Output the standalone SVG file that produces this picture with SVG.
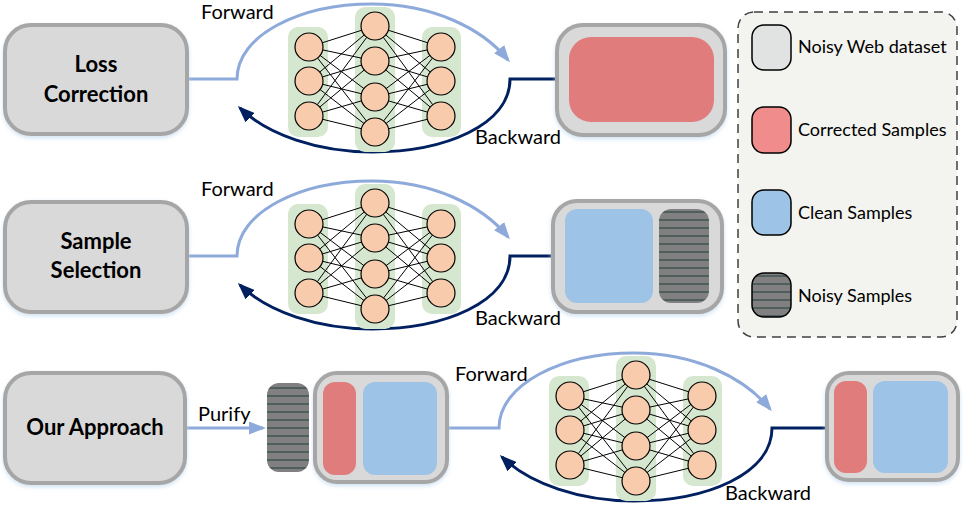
<svg xmlns="http://www.w3.org/2000/svg" xmlns:xlink="http://www.w3.org/1999/xlink" width="964" height="510" viewBox="0 0 964 510">
<style>
.box{fill:#d9d9d9;stroke:#a6a6a6;stroke-width:4;}
.title{font-family:Lato,"Liberation Sans",sans-serif;font-weight:bold;font-size:22px;fill:#000;text-anchor:middle;}
.lbl{font-family:Lato,"Liberation Sans",sans-serif;font-size:20px;fill:#000;}
.leg{font-family:Lato,"Liberation Sans",sans-serif;font-size:18px;fill:#000;}
.fwd{fill:none;stroke:#8eaadb;stroke-width:3;}
.bwd{fill:none;stroke:#002060;stroke-width:3;}
.layer{fill:#d5e8cf;}
.neuron{fill:#f8cbad;stroke:#000;stroke-width:1.2;}
.edge{stroke:#000;stroke-width:1;}
.red{fill:#e07c7c;}
.blue{fill:#9dc3e6;}
.noisy{fill:url(#hatch);}
</style>
<defs>
<filter id="sh" x="-10%" y="-10%" width="120%" height="130%">
<feDropShadow dx="0" dy="2" stdDeviation="2" flood-color="#bdd7ee" flood-opacity="0.7"/>
</filter>
<pattern id="hatch" width="10" height="8" patternUnits="userSpaceOnUse">
<rect width="10" height="8" fill="#808080"/>
<line x1="0" y1="4" x2="10" y2="4" stroke="#1f3d3a" stroke-width="1"/>
</pattern>
<marker id="af" viewBox="0 0 17 13" markerWidth="17" markerHeight="13" refX="14" refY="6.5" orient="auto" markerUnits="userSpaceOnUse">
<path d="M0,0 L17,6.5 L0,13 z" fill="#8eaadb"/>
</marker>
<marker id="ab" viewBox="0 0 17 13" markerWidth="17" markerHeight="13" refX="14" refY="6.5" orient="auto" markerUnits="userSpaceOnUse">
<path d="M0,0 L17,6.5 L0,13 z" fill="#002060"/>
</marker>
<g id="net">
<rect class="layer" x="288" y="27" width="40" height="110" rx="10"/>
<rect class="layer" x="355" y="7" width="40" height="145" rx="10"/>
<rect class="layer" x="422" y="27" width="39" height="110" rx="10"/>
<g class="edge">
<line x1="309" y1="47" x2="375" y2="26"/><line x1="309" y1="47" x2="375" y2="61"/><line x1="309" y1="47" x2="375" y2="97"/><line x1="309" y1="47" x2="375" y2="132"/>
<line x1="309" y1="81" x2="375" y2="26"/><line x1="309" y1="81" x2="375" y2="61"/><line x1="309" y1="81" x2="375" y2="97"/><line x1="309" y1="81" x2="375" y2="132"/>
<line x1="309" y1="116" x2="375" y2="26"/><line x1="309" y1="116" x2="375" y2="61"/><line x1="309" y1="116" x2="375" y2="97"/><line x1="309" y1="116" x2="375" y2="132"/>
<line x1="441" y1="47" x2="375" y2="26"/><line x1="441" y1="47" x2="375" y2="61"/><line x1="441" y1="47" x2="375" y2="97"/><line x1="441" y1="47" x2="375" y2="132"/>
<line x1="441" y1="81" x2="375" y2="26"/><line x1="441" y1="81" x2="375" y2="61"/><line x1="441" y1="81" x2="375" y2="97"/><line x1="441" y1="81" x2="375" y2="132"/>
<line x1="441" y1="116" x2="375" y2="26"/><line x1="441" y1="116" x2="375" y2="61"/><line x1="441" y1="116" x2="375" y2="97"/><line x1="441" y1="116" x2="375" y2="132"/>
</g>
<circle class="neuron" cx="309" cy="47" r="14"/><circle class="neuron" cx="309" cy="81" r="14"/><circle class="neuron" cx="309" cy="116" r="14"/>
<circle class="neuron" cx="375" cy="26" r="14"/><circle class="neuron" cx="375" cy="61" r="14"/><circle class="neuron" cx="375" cy="97" r="14"/><circle class="neuron" cx="375" cy="132" r="14"/>
<circle class="neuron" cx="441" cy="47" r="14"/><circle class="neuron" cx="441" cy="81" r="14"/><circle class="neuron" cx="441" cy="116" r="14"/>
</g>
</defs>
<rect width="964" height="510" fill="#ffffff"/>

<g id="connectors">
<path class="fwd" d="M187,79 H237 C237,35 300,4 372,4 C432,4 482,28 508,60" marker-end="url(#af)"/>
<path class="bwd" d="M557,79 H510 C510,125 445,152 372,152 C318,152 268,135 240,108" marker-end="url(#ab)"/>
<path class="fwd" d="M187,256 H237 C237,212 300,181 372,181 C432,181 482,205 508,237" marker-end="url(#af)"/>
<path class="bwd" d="M566,256 H510 C510,302 445,329 372,329 C318,329 268,312 240,285" marker-end="url(#ab)"/>
<path class="fwd" d="M185,428 H263" marker-end="url(#af)"/>
<path class="fwd" d="M447,428 H499 C499,384 562,353 634,353 C694,353 744,377 770,409" marker-end="url(#af)"/>
<path class="bwd" d="M827,428 H772 C772,474 707,501 634,501 C580,501 530,484 502,457" marker-end="url(#ab)"/>
</g>

<g id="loss-correction">
<rect class="box" x="5" y="25" width="182" height="109" rx="26" filter="url(#sh)"/>
<text class="title" x="96" y="72">Loss</text>
<text class="title" x="96" y="102">Correction</text>
</g>
<g id="sample-selection">
<rect class="box" x="5" y="202" width="182" height="110" rx="26" filter="url(#sh)"/>
<text class="title" x="96" y="249">Sample</text>
<text class="title" x="96" y="278">Selection</text>
</g>
<g id="our-approach">
<rect class="box" x="5" y="373" width="180" height="110" rx="26" filter="url(#sh)"/>
<text class="title" x="95" y="435">Our Approach</text>
</g>

<g id="net1"><use xlink:href="#net"/></g>
<g id="net2"><use xlink:href="#net" transform="translate(0,177)"/></g>
<g id="net3"><use xlink:href="#net" transform="translate(261,349)"/></g>

<g id="labels">
<text class="lbl" x="201" y="19">Forward</text>
<text class="lbl" x="475" y="144">Backward</text>
<text class="lbl" x="201" y="196">Forward</text>
<text class="lbl" x="475" y="325">Backward</text>
<text class="lbl" x="198" y="421">Purify</text>
<text class="lbl" x="455" y="381">Forward</text>
<text class="lbl" x="725" y="500">Backward</text>
</g>

<g id="dataset-corrected">
<rect class="box" x="557" y="25" width="168" height="110" rx="26" filter="url(#sh)"/>
<rect class="red" x="569" y="37" width="145" height="85" rx="22"/>
</g>
<g id="dataset-selected">
<rect class="box" x="553" y="201" width="169" height="111" rx="24" filter="url(#sh)"/>
<rect class="blue" x="565" y="209" width="88" height="94" rx="12"/>
<rect class="noisy" x="659" y="209" width="50" height="94" rx="12"/>
</g>
<g id="purified-noisy">
<rect class="noisy" x="267" y="383" width="42" height="89" rx="12"/>
</g>
<g id="dataset-purified">
<rect class="box" x="315" y="373" width="132" height="109" rx="22" filter="url(#sh)"/>
<rect class="red" x="323" y="382" width="33" height="93" rx="12"/>
<rect class="blue" x="363" y="382" width="74" height="93" rx="12"/>
</g>
<g id="dataset-output">
<rect class="box" x="827" y="373" width="131" height="107" rx="22" filter="url(#sh)"/>
<rect class="red" x="834" y="381" width="33" height="92" rx="12"/>
<rect class="blue" x="873" y="381" width="75" height="92" rx="12"/>
</g>

<g id="legend">
<rect x="738" y="12" width="219" height="325" rx="16" fill="#f3f3ef" stroke="#404040" stroke-width="1.5" stroke-dasharray="9 6"/>
<rect x="752" y="25" width="39" height="45" rx="12" fill="#e1e3e3" stroke="#000" stroke-width="1.5"/>
<text class="leg" x="798" y="53">Noisy Web dataset</text>
<rect x="752" y="107" width="39" height="46" rx="12" fill="#f08c8c" stroke="#000" stroke-width="1.5"/>
<text class="leg" x="798" y="136">Corrected Samples</text>
<rect x="752" y="190" width="39" height="45" rx="12" fill="#9dc3e6" stroke="#000" stroke-width="1.5"/>
<text class="leg" x="798" y="219">Clean Samples</text>
<rect x="752" y="273" width="39" height="44" rx="12" fill="url(#hatch)" stroke="#000" stroke-width="1.5"/>
<text class="leg" x="798" y="302">Noisy Samples</text>
</g>
</svg>
